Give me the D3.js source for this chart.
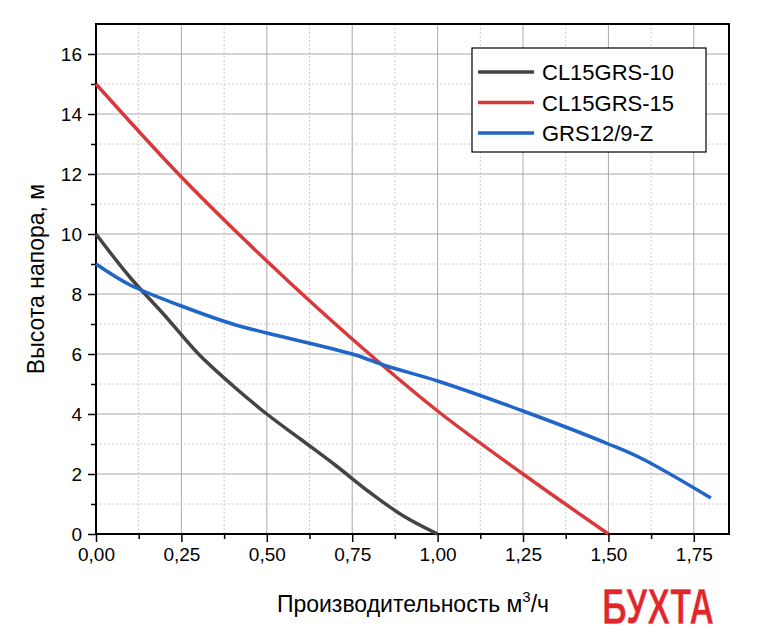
<!DOCTYPE html>
<html><head><meta charset="utf-8">
<script src="https://cdn.jsdelivr.net/npm/d3@7"></script>
<style>body{margin:0;background:#fff}text{font-family:Arial,"Liberation Sans",sans-serif}</style>
</head><body><svg id="c" width="757" height="640"></svg>
<script>
// series: [flow m3/h, head m]
const seriesNames = ['CL15GRS-10', 'CL15GRS-15', 'GRS12/9-Z'];
const seriesColors = ['#444444', '#d9393b', '#1f66c8'];
const cl10 = [[0,10],[0.1,8.55],[0.2,7.3],[0.3,6.0],[0.4,4.95],[0.5,4.0],[0.6,3.15],[0.7,2.3],[0.8,1.4],[0.9,0.6],[1.0,0]];
const cl15 = [[0,15],[0.25,11.9],[0.5,9.1],[0.75,6.5],[1.0,4.1],[1.25,2.0],[1.5,0]];
const grs = [[0,9],[0.1,8.3],[0.25,7.6],[0.4,7.0],[0.5,6.7],[0.75,6.0],[0.85,5.6],[1.0,5.1],[1.25,4.1],[1.5,3.0],[1.6,2.5],[1.8,1.2]];
const xTicks = [0, 0.25, 0.5, 0.75, 1.0, 1.25, 1.5, 1.75];
const yTicks = [0, 2, 4, 6, 8, 10, 12, 14, 16];

const svg = d3.select('#c');
const L = 96, T = 24, R = 729, B = 534;
const x = d3.scaleLinear().domain([0, 1.853]).range([L, R]);
const y = d3.scaleLinear().domain([0, 17]).range([B, T]);
const fmt = d => d3.format('.2f')(d).replace('.', ',');

// grid
const g = svg.append('g');
d3.range(0.125, 1.85, 0.25).forEach(v => g.append('line').attr('x1', x(v)).attr('x2', x(v)).attr('y1', T).attr('y2', B).attr('stroke', '#ccc').attr('stroke-dasharray', '2,2'));
xTicks.slice(1).forEach(v => g.append('line').attr('x1', x(v)).attr('x2', x(v)).attr('y1', T).attr('y2', B).attr('stroke', '#aaa'));
d3.range(1, 17, 2).forEach(v => g.append('line').attr('x1', L).attr('x2', R).attr('y1', y(v)).attr('y2', y(v)).attr('stroke', '#ccc').attr('stroke-dasharray', '2,2'));
yTicks.slice(1).forEach(v => g.append('line').attr('x1', L).attr('x2', R).attr('y1', y(v)).attr('y2', y(v)).attr('stroke', '#aaa'));

// axes
svg.append('g').attr('transform', `translate(0,${B})`)
  .call(d3.axisBottom(x).tickValues(xTicks).tickFormat(fmt).tickSize(8).tickPadding(6));
svg.append('g').attr('transform', `translate(0,${B})`)
  .call(d3.axisBottom(x).tickValues(d3.range(0.125, 1.85, 0.25)).tickFormat('').tickSize(5));
svg.append('g').attr('transform', `translate(${L},0)`)
  .call(d3.axisLeft(y).tickValues(yTicks).tickSize(8).tickPadding(6));
svg.append('g').attr('transform', `translate(${L},0)`)
  .call(d3.axisLeft(y).tickValues(d3.range(1, 17, 2)).tickFormat('').tickSize(5));
svg.selectAll('.domain').remove();
svg.selectAll('.tick line').attr('stroke', '#000').attr('stroke-width', 1.5);
svg.selectAll('.tick text').style('font-size', '19px').attr('fill', '#000');
svg.append('rect').attr('x', L).attr('y', T).attr('width', R - L).attr('height', B - T)
  .attr('fill', 'none').attr('stroke', '#000').attr('stroke-width', 2);

// lines
const line = d3.line().x(d => x(d[0])).y(d => y(d[1])).curve(d3.curveCatmullRom);
[cl10, cl15, grs].forEach((s, i) => svg.append('path').datum(s).attr('d', line)
  .attr('fill', 'none').attr('stroke', seriesColors[i]).attr('stroke-width', 3.5));

// legend
const lg = svg.append('g');
lg.append('rect').attr('x', 472).attr('y', 48).attr('width', 234).attr('height', 104)
  .attr('fill', '#fff').attr('stroke', '#000').attr('stroke-width', 1.2);
seriesNames.forEach((n, i) => {
  const yy = 72 + i * 30.5;
  lg.append('line').attr('x1', 478).attr('x2', 534).attr('y1', yy).attr('y2', yy).attr('stroke', seriesColors[i]).attr('stroke-width', 3.5);
  lg.append('text').attr('x', 542).attr('y', yy + 8).attr('font-size', 22).text(n);
});

// axis titles
svg.append('text').attr('transform', `translate(44,${(T + B) / 2}) rotate(-90)`).attr('text-anchor', 'middle')
  .attr('font-size', 23).text('Высота напора, м');
const xt = svg.append('text').attr('x', 413).attr('y', 612).attr('text-anchor', 'middle').attr('font-size', 23);
xt.append('tspan').text('Производительность м');
xt.append('tspan').attr('font-size', 15).attr('dy', -10).text('3');
xt.append('tspan').attr('dy', 10).text('/ч');

// watermark
svg.append('text').attr('x', 658).attr('y', 624).attr('text-anchor', 'middle').attr('font-size', 50)
  .attr('font-weight', 'bold').attr('font-family', 'DejaVu Serif').attr('fill', '#e0262b')
  .attr('stroke', '#fff').attr('stroke-width', 0.5).attr('textLength', 112).attr('lengthAdjust', 'spacingAndGlyphs').text('БУХТА');
</script></body></html>
